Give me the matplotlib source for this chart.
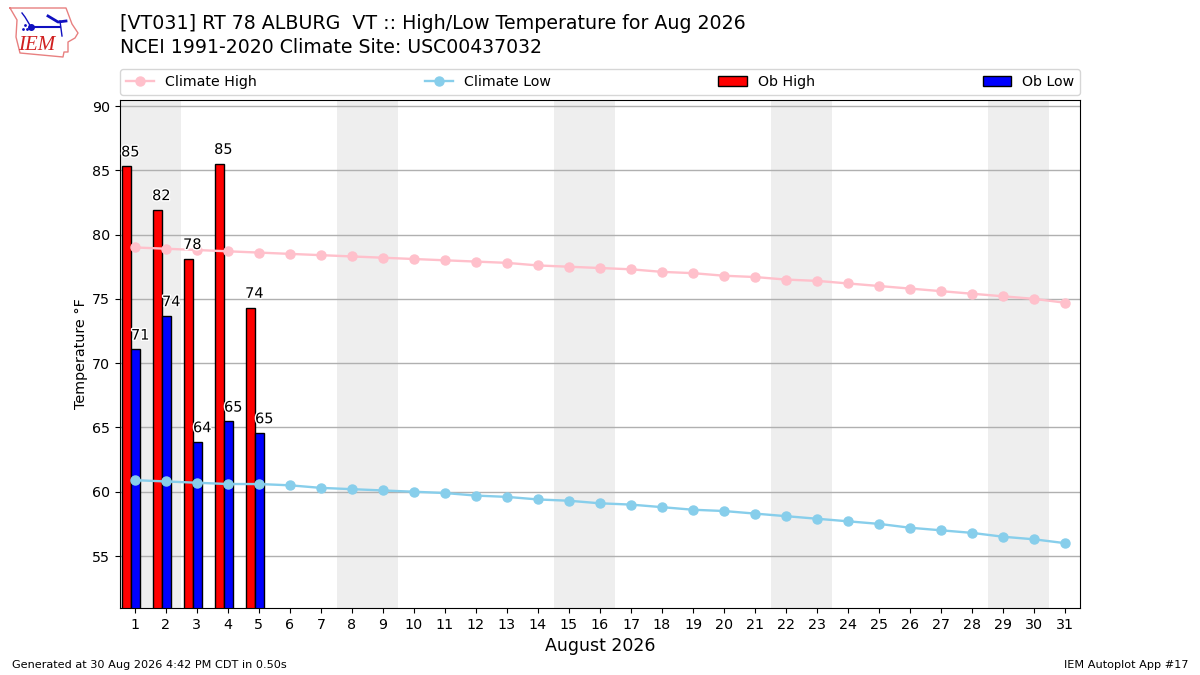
import matplotlib
matplotlib.use("Agg")
import matplotlib.pyplot as plt
import matplotlib.patheffects as PathEffects

days = list(range(1, 32))
climate_high = [79.0, 78.9, 78.8, 78.7, 78.6, 78.5, 78.4, 78.3, 78.2, 78.1, 78.0, 77.9, 77.8, 77.6, 77.5, 77.4,
                77.3, 77.1, 77.0, 76.8, 76.7, 76.5, 76.4, 76.2, 76.0, 75.8, 75.6, 75.4, 75.2, 75.0, 74.7]
climate_low = [60.9, 60.8, 60.7, 60.6, 60.6, 60.5, 60.3, 60.2, 60.1, 60.0, 59.9, 59.7, 59.6, 59.4, 59.3, 59.1,
               59.0, 58.8, 58.6, 58.5, 58.3, 58.1, 57.9, 57.7, 57.5, 57.2, 57.0, 56.8, 56.5, 56.3, 56.0]
ob_days = [1, 2, 3, 4, 5]
ob_high = [85.3, 81.9, 78.1, 85.5, 74.3]
ob_low = [71.1, 73.7, 63.9, 65.5, 64.6]
high_labels = ["85", "82", "78", "85", "74"]
low_labels = ["71", "74", "64", "65", "65"]
weekend_days = [1, 8, 15, 22, 29]
yticks = [55, 60, 65, 70, 75, 80, 85, 90]

fig = plt.figure(figsize=(12, 6.75), dpi=100)
ax = fig.add_axes([0.1, 0.0993, 0.8, 0.7526])

# weekend shading, first one is cut off by the axes edge
for d in weekend_days:
    ax.axvspan(d - 0.49, d + 1.49, color="#eeeeee", lw=0, zorder=0)

ax.grid(axis="y", color="#b0b0b0", lw=1, zorder=1)
ax.set_axisbelow(True)

b1 = ax.bar([d - 0.12 for d in ob_days], ob_high, width=-0.3, align="edge", color="red", edgecolor="k", lw=1,
            label="Ob High", zorder=2)
b2 = ax.bar([d - 0.12 for d in ob_days], ob_low, width=0.3, align="edge", color="blue", edgecolor="k", lw=1,
            label="Ob Low", zorder=2)
l1, = ax.plot(days, climate_high, "-o", color="pink", lw=1.7, ms=6.5, label="Climate High", zorder=3)
l2, = ax.plot(days, climate_low, "-o", color="skyblue", lw=1.7, ms=6.5, label="Climate Low", zorder=3)

halo = [PathEffects.withStroke(linewidth=2, foreground="white")]
for d, v, s in zip(ob_days, ob_high, high_labels):
    ax.text(d - 0.15, v + 0.55, s, ha="center", va="bottom", fontsize=10.4, zorder=4, path_effects=halo)
for d, v, s in zip(ob_days, ob_low, low_labels):
    ax.text(d + 0.17, v + 0.5, s, ha="center", va="bottom", fontsize=10.4, zorder=4, path_effects=halo)

ax.set_xlim(0.52, 31.48)
ax.set_ylim(50.96, 90.47)
ax.set_xticks(days)
ax.set_yticks(yticks)
ax.tick_params(labelsize=10.3)
ax.set_xlabel("August 2026", fontsize=12.5)
ax.set_ylabel("Temperature °F", fontsize=10.4, labelpad=3)

fig.legend(handles=[l1, l2, b1, b2], ncol=4, loc="lower left", mode="expand", bbox_to_anchor=(0.1, 0.86, 0.8, 0.05),
           borderaxespad=0, fontsize=10.2)

fig.text(0.1, 0.9645, "[VT031] RT 78 ALBURG  VT :: High/Low Temperature for Aug 2026", fontsize=13.7, va="center")
fig.text(0.1, 0.9295, "NCEI 1991-2020 Climate Site: USC00437032", fontsize=13.57, va="center")
fig.text(0.01, 0.0148, "Generated at 30 Aug 2026 4:42 PM CDT in 0.50s", fontsize=8.1, va="center")
fig.text(0.99, 0.0148, "IEM Autoplot App #17", fontsize=8.1, va="center", ha="right")

# rough IEM logo, in image pixels
logo = fig.add_axes([0, 1 - 62 / 675, 90 / 1200, 62 / 675])
logo.set_xlim(0, 90)
logo.set_ylim(62, 0)
logo.axis("off")
logo.plot([10, 66, 69, 72, 78, 75, 68, 68, 64, 63, 20, 16, 17, 10], [8, 8, 16, 24, 33, 38, 42, 52, 52, 57, 53, 37, 20, 8],
          color="#e88080", lw=1)
logo.plot([31, 60], [27, 27], color="#1010c0", lw=1.5)
logo.plot([31], [27], "o", color="#1010c0", ms=4)
logo.plot([22, 25, 31], [13, 17, 27], color="#1010c0", lw=1)
logo.plot([48, 58, 66], [16, 22, 21], color="#1010c0", lw=2)
logo.plot([60, 62], [21, 36], color="#1010c0", lw=1)
logo.plot([23, 25, 27], [29, 25, 29], ".", color="#1010c0", ms=2)
logo.text(37, 45, "IEM", color="#d02020", family="Liberation Serif", style="italic", fontsize=15, ha="center", va="center")

fig.savefig("out.png", dpi=100)
